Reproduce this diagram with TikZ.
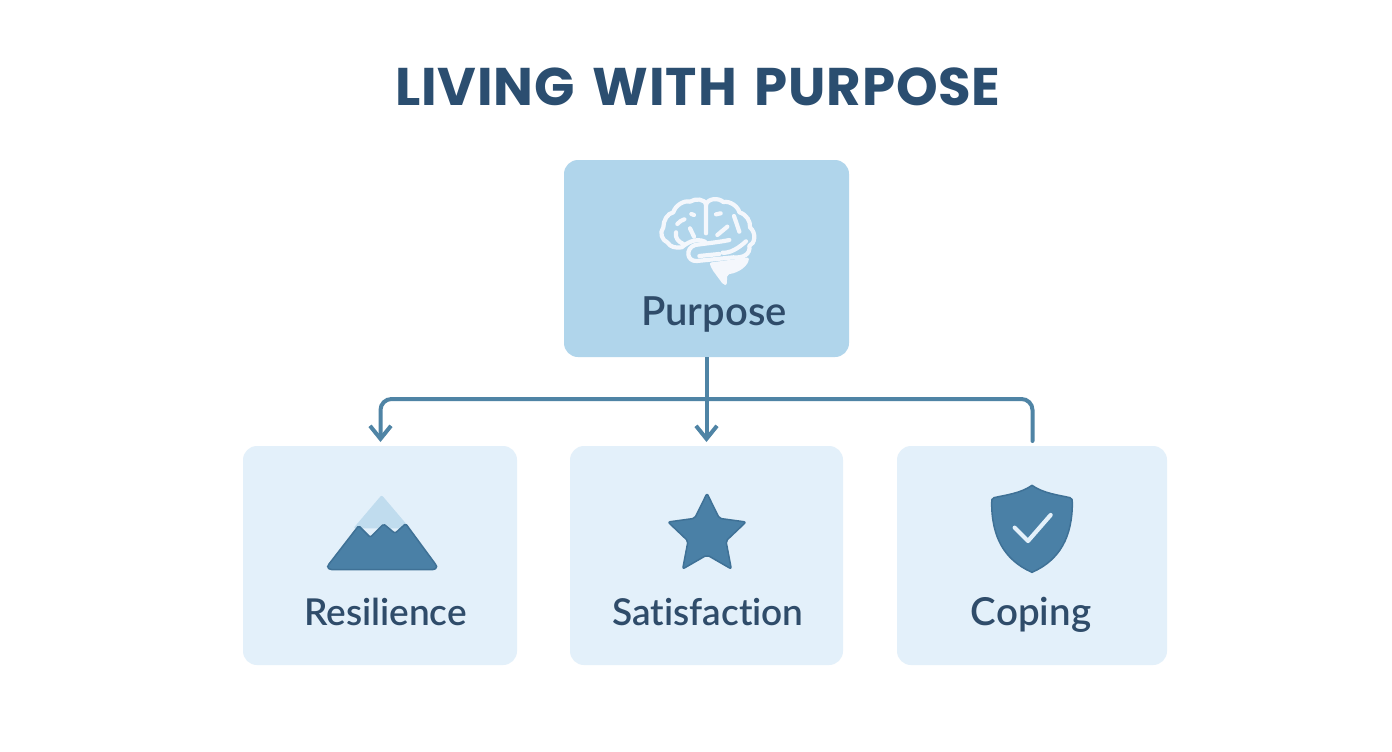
\documentclass[tikz,border=0pt]{standalone}
\usepackage{fontspec}
\setmainfont{Poppins}
\newfontfamily\labelfont{Lato Semibold}[Ligatures=NoCommon]
\newfontfamily\titlefont{Poppins Bold}[LetterSpace=1.5,WordSpace=1.5]
\usetikzlibrary{arrows.meta}
\definecolor{topbox}{HTML}{B0D5EB}
\definecolor{lowbox}{HTML}{E3F0FA}
\definecolor{wire}{HTML}{4F84A5}
\definecolor{icon}{HTML}{4A80A6}
\definecolor{iconedge}{HTML}{3F7196}
\definecolor{snow}{HTML}{C0DCEE}
\definecolor{ink}{HTML}{2F4C6A}
\definecolor{titleink}{HTML}{2B4E70}
\definecolor{brainw}{HTML}{F4F7FC}
\tikzset{
 x=1pt,y=-1pt,
 panel/.style={rounded corners=14pt,anchor=north west,inner sep=0pt,outer sep=0pt},
 label/.style={text=ink,inner sep=0pt,anchor=base,font=\labelfont\fontsize{37}{40}\selectfont},
 wireline/.style={draw=wire,line width=4pt,rounded corners=11pt},
 arrowed/.style={-{Straight Barb[length=13pt,width=21pt,line width=4pt]}},
 brainline/.style={draw=brainw,line width=4.2pt,line cap=round,line join=round},
}
\begin{document}
\begin{tikzpicture}
\useasboundingbox (0,0) rectangle (1392,752);
\fill[white] (0,0) rectangle (1392,752);
\node[text=titleink,inner sep=0pt,anchor=base,font=\titlefont\fontsize{53}{56}\selectfont] (title) at (698,105) {LIVING WITH PURPOSE};
\node[panel,fill=topbox,minimum width=285pt,minimum height=197pt] (purpose) at (564,160) {};
\node[panel,fill=lowbox,minimum width=274pt,minimum height=219pt] (res) at (243,446) {};
\node[panel,fill=lowbox,minimum width=273pt,minimum height=219pt] (sat) at (570,446) {};
\node[panel,fill=lowbox,minimum width=270pt,minimum height=219pt] (cop) at (897,446) {};
\node[label,font=\labelfont\fontsize{40}{42}\selectfont] (lp) at (714,325) {Purpose};
\node[label] (lr) at (385.5,625) {Resilience};
\node[label] (ls) at (708,625) {Satisfaction};
\node[label,font=\labelfont\fontsize{38.5}{40}\selectfont] (lc) at (1031,625) {Coping};
% connectors
\coordinate (resin) at (380.5,442);
\coordinate (satin) at (706.5,442);
\coordinate (copin) at (1032.5,441);
\coordinate (bar) at (706.5,399);
\draw[wireline,arrowed] (purpose.south -| bar) -- (satin);
\draw[wireline,arrowed] (bar) -- (bar -| resin) -- (resin);
\draw[wireline,line cap=round] (bar) -- (bar -| copin) -- (copin);
% mountain
\begin{scope}[shift={(310,380)},scale=1/3]
\fill[snow,rounded corners=2pt] (215,345) -- (300,445) -- (130,445) -- cycle;
\filldraw[fill=icon,draw=iconedge,line width=1.5pt,line join=round,rounded corners=1.5pt]
 (54,556) -- (146,437) -- (181,472) -- (221,432) -- (255,460) -- (287,431) -- (379,556) -- (381,563) -- (372,569) -- (62,569) -- (52,563) -- cycle;
\end{scope}
% star
\begin{scope}[shift={(640,350)},scale=1/3]
\filldraw[fill=icon,draw=iconedge,line width=1.5pt,line join=round,rounded corners=2pt]
 (201,430) -- (238,505) -- (318,516) -- (258,573) -- (274,657) -- (201,615) -- (128,657) -- (144,573) -- (84,516) -- (164,505) -- cycle;
\end{scope}
% shield
\begin{scope}[shift={(960,380)},scale=1/3]
\filldraw[fill=icon,draw=iconedge,line width=1.5pt,line join=round]
 (216,316) .. controls (250,340) and (295,345) .. (330,353) .. controls (337,356) and (337,360) .. (337,368)
 .. controls (337,470) and (300,540) .. (216,577)
 .. controls (132,540) and (95,470) .. (95,368) .. controls (95,360) and (95,356) .. (102,353)
 .. controls (137,345) and (182,340) .. (216,316) -- cycle;
\draw[draw=lowbox,line width=4.2pt,line cap=round,line join=round] (164,443) -- (204,483) -- (272,405);
\end{scope}
% brain
\begin{scope}[shift={(620,180)},scale=1/3]
\draw[brainline]
 (255,185) .. controls (225,172) and (200,190) .. (185,202) .. controls (165,205) and (150,200) .. (143,188)
 .. controls (125,180) and (118,158) .. (130,142) .. controls (130,122) and (142,100) .. (160,97)
 .. controls (165,78) and (190,60) .. (210,65) .. controls (225,55) and (255,55) .. (258,75) -- (258,160);
\draw[brainline]
 (258,75) .. controls (262,55) and (295,52) .. (310,66) .. controls (330,62) and (355,80) .. (358,97)
 .. controls (380,103) and (392,125) .. (390,142) .. controls (410,160) and (405,190) .. (388,198)
 .. controls (392,222) and (370,235) .. (340,232) .. controls (300,236) and (260,240) .. (230,243)
 .. controls (200,245) and (195,205) .. (225,195) .. controls (260,190) and (300,186) .. (328,180);
\draw[brainline] (238,228) -- (298,222);
\draw[brainline] (308,218) .. controls (330,220) and (355,205) .. (378,184);
\draw[brainline] (292,165) -- (322,140);
\draw[brainline] (342,108) -- (358,155);
\draw[brainline] (288,103) -- (302,100);
\draw[brainline] (210,145) -- (222,170);
\draw[brainline] (168,157) .. controls (165,175) and (175,185) .. (190,192);
\draw[brainline] (172,132) .. controls (178,125) and (185,120) .. (193,118);
\draw[brainline] (214,102) -- (222,105);
\fill[brainw,rounded corners=2pt] (268,248) -- (387,232) .. controls (385,255) and (360,278) .. (322,283)
 -- (320,316) -- (310,314) -- (276,268) -- cycle;
\end{scope}
\end{tikzpicture}
\end{document}
